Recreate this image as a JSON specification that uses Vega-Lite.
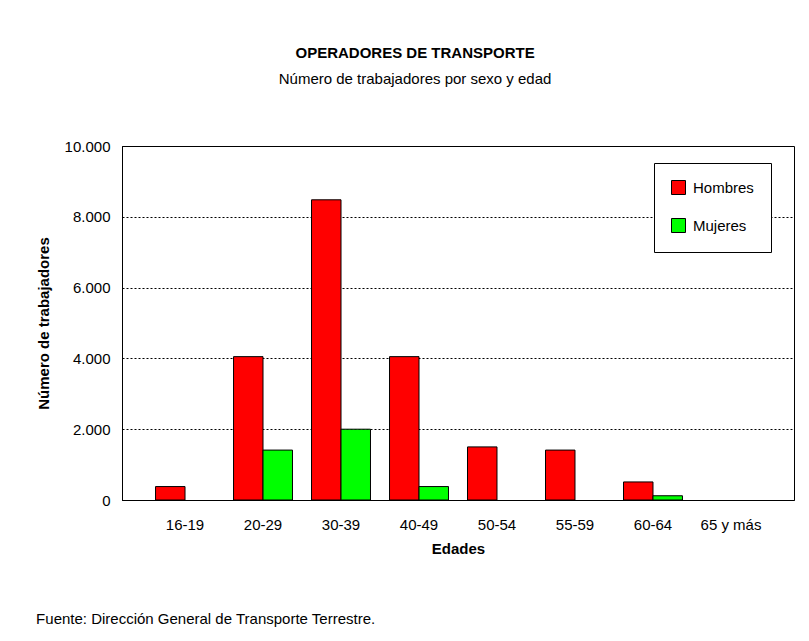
{
  "$schema": "https://vega.github.io/schema/vega-lite/v6.json",
  "padding": {"left": 35, "top": 45, "right": 13, "bottom": 5},
  "background": "#ffffff",
  "title": {
    "text": "OPERADORES DE TRANSPORTE",
    "subtitle": "Número de trabajadores por sexo y edad",
    "frame": "bounds",
    "anchor": "middle",
    "font": "Liberation Sans",
    "fontSize": 15,
    "fontWeight": "bold",
    "color": "#000",
    "subtitleFont": "Liberation Sans",
    "subtitleFontSize": 15,
    "subtitleColor": "#000",
    "subtitlePadding": 11,
    "offset": 52
  },
  "vconcat": [
    {
      "width": 672,
      "height": 354,
      "title": {
        "text": "Fuente: Dirección General de Transporte Terrestre.",
        "orient": "bottom",
        "anchor": "start",
        "frame": "bounds",
        "font": "Liberation Sans",
        "fontSize": 15,
        "fontWeight": "normal",
        "color": "#000",
        "offset": 56
      },
      "data": {
        "values": [
          {"edad": "16-19", "sexo": "Hombres", "n": 380},
          {"edad": "16-19", "sexo": "Mujeres", "n": 0},
          {"edad": "20-29", "sexo": "Hombres", "n": 4050},
          {"edad": "20-29", "sexo": "Mujeres", "n": 1410},
          {"edad": "30-39", "sexo": "Hombres", "n": 8480},
          {"edad": "30-39", "sexo": "Mujeres", "n": 2000},
          {"edad": "40-49", "sexo": "Hombres", "n": 4050},
          {"edad": "40-49", "sexo": "Mujeres", "n": 380},
          {"edad": "50-54", "sexo": "Hombres", "n": 1500},
          {"edad": "50-54", "sexo": "Mujeres", "n": 0},
          {"edad": "55-59", "sexo": "Hombres", "n": 1410},
          {"edad": "55-59", "sexo": "Mujeres", "n": 0},
          {"edad": "60-64", "sexo": "Hombres", "n": 510},
          {"edad": "60-64", "sexo": "Mujeres", "n": 120},
          {"edad": "65 y más", "sexo": "Hombres", "n": 0},
          {"edad": "65 y más", "sexo": "Mujeres", "n": 0}
        ]
      },
      "mark": {"type": "bar", "stroke": "#000", "strokeWidth": 1},
      "encoding": {
        "x": {
          "field": "edad",
          "type": "nominal",
          "sort": null,
          "scale": {"paddingInner": 0.244, "paddingOuter": 0.43},
          "axis": {
            "title": "Edades",
            "labelAngle": 0,
            "labelPadding": 17,
            "titlePadding": 9,
            "grid": false
          }
        },
        "xOffset": {
          "field": "sexo",
          "type": "nominal",
          "sort": ["Hombres", "Mujeres"],
          "scale": {"paddingInner": 0, "paddingOuter": 0}
        },
        "y": {
          "field": "n",
          "type": "quantitative",
          "scale": {"domain": [0, 10000], "nice": false},
          "axis": {
            "title": "Número de trabajadores",
            "values": [0, 2000, 4000, 6000, 8000, 10000],
            "labelExpr": "replace(format(datum.value, ','), ',', '.')",
            "grid": true,
            "gridColor": "#000",
            "gridDash": [2, 2],
            "gridWidth": 1,
            "gridOpacity": 1,
            "labelPadding": 12,
            "titlePadding": 13
          }
        },
        "strokeOpacity": {
          "condition": {"test": "datum.n > 0", "value": 1},
          "value": 0
        },
        "color": {
          "field": "sexo",
          "type": "nominal",
          "scale": {"domain": ["Hombres", "Mujeres"], "range": ["#ff0000", "#00ff00"]},
          "legend": {
            "title": null,
            "orient": "none",
            "legendX": 532,
            "legendY": 17,
            "strokeColor": "#000",
            "fillColor": "#ffffff",
            "padding": 17,
            "rowPadding": 19,
            "symbolType": "square",
            "symbolSize": 196,
            "symbolStrokeColor": "#000",
            "symbolStrokeWidth": 1,
            "symbolOpacity": 1,
            "labelFontSize": 15,
            "labelFont": "Liberation Sans",
            "labelColor": "#000",
            "labelOffset": 7
          }
        }
      }
    }
  ],
  "config": {
    "font": "Liberation Sans",
    "view": {"stroke": "#000", "strokeWidth": 1},
    "axis": {
      "labelFont": "Liberation Sans",
      "labelFontSize": 15,
      "labelColor": "#000",
      "titleFont": "Liberation Sans",
      "titleFontSize": 15,
      "titleFontWeight": "bold",
      "titleColor": "#000",
      "domainColor": "#000",
      "domainWidth": 1,
      "ticks": false
    }
  }
}
